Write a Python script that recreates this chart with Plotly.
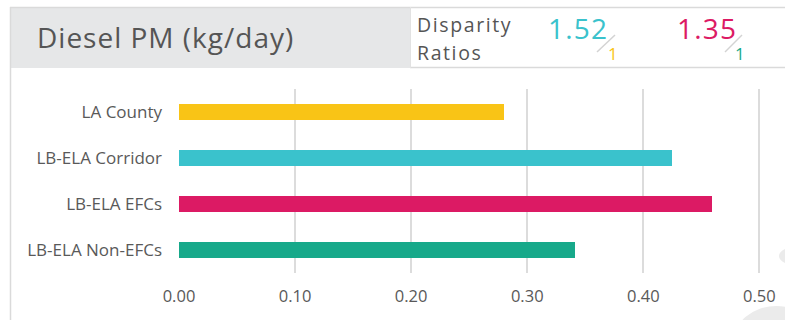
import plotly.graph_objects as go

# Diesel PM emissions by area (kg/day)
categories = ["LA County", "LB-ELA Corridor", "LB-ELA EFCs", "LB-ELA Non-EFCs"]
values = [0.280, 0.425, 0.459, 0.341]
bar_colors = ["#F9C416", "#3AC2CC", "#DC1A64", "#17A98A"]
tick_vals = [0.0, 0.1, 0.2, 0.3, 0.4, 0.5]
tick_text = ["0.00", "0.10", "0.20", "0.30", "0.40", "0.50"]

# Disparity ratios shown in the header
ratio_corridor = "1.52"
ratio_efc = "1.35"

W, H = 785, 320
ML, MR, MT, MB = 179, 14, 89, 47
PW, PH = W - ML - MR, H - MT - MB
XMAX = 0.51
HEAD_FONT = "Open Sans"


def px(x):
    return (x - ML) / PW


def py(y):
    return (H - MB - y) / PH


def spaced(text, spacing):
    return f'<span style="letter-spacing:{spacing}px">{text}</span>'


fig = go.Figure()
fig.add_trace(go.Bar(
    y=categories,
    x=values,
    orientation="h",
    marker=dict(color=bar_colors, line=dict(width=0)),
    width=0.35,
    hoverinfo="x+y",
))

GRAY_TXT = "#595959"
shapes = [
    # header grey title box
    dict(type="rect", xref="paper", yref="paper", x0=px(10), x1=px(410), y0=py(68), y1=py(7),
         fillcolor="#E6E7E8", line=dict(width=0), layer="below"),
    # top header rule
    dict(type="line", xref="paper", yref="paper", x0=px(10), x1=px(785), y0=py(7.5), y1=py(7.5),
         line=dict(color="#DADADA", width=1.5)),
    # ratio box bottom rule
    dict(type="line", xref="paper", yref="paper", x0=px(410), x1=px(785), y0=py(67.5), y1=py(67.5),
         line=dict(color="#DADADA", width=1.5)),
    # ratio box left rule
    dict(type="line", xref="paper", yref="paper", x0=px(410.5), x1=px(410.5), y0=py(7), y1=py(68),
         line=dict(color="#E2E2E2", width=1)),
    # left panel rule
    dict(type="line", xref="paper", yref="paper", x0=px(10.5), x1=px(10.5), y0=py(7), y1=py(320),
         line=dict(color="#DADADA", width=1.5)),
    # ratio slashes
    dict(type="line", xref="paper", yref="paper", x0=px(597), x1=px(615), y0=py(52), y1=py(35),
         line=dict(color="#D3D3D3", width=1.5)),
    dict(type="line", xref="paper", yref="paper", x0=px(725), x1=px(742), y0=py(52), y1=py(35),
         line=dict(color="#D3D3D3", width=1.5)),
    # decorative grey blobs in the corner
    dict(type="circle", xref="paper", yref="paper", x0=px(733), x1=px(820), y0=py(380), y1=py(306),
         fillcolor="#EBEBEB", line=dict(width=0), layer="below"),
    dict(type="circle", xref="paper", yref="paper", x0=px(779), x1=px(820), y0=py(266), y1=py(246),
         fillcolor="#EBEBEB", line=dict(width=0), layer="below"),
]

annotations = [
    dict(text=spaced("Diesel PM (kg/day)", 1), xref="paper", yref="paper", x=px(35), y=py(37),
         xanchor="left", yanchor="middle", showarrow=False,
         font=dict(family=HEAD_FONT, size=28, color="#555555")),
    dict(text=spaced("Disparity", 1.6), xref="paper", yref="paper", x=px(415), y=py(24),
         xanchor="left", yanchor="middle", showarrow=False,
         font=dict(family=HEAD_FONT, size=19.5, color="#555555")),
    dict(text=spaced("Ratios", 1.6), xref="paper", yref="paper", x=px(415), y=py(52),
         xanchor="left", yanchor="middle", showarrow=False,
         font=dict(family=HEAD_FONT, size=19.5, color="#555555")),
    dict(text=spaced(ratio_corridor, 1.2), xref="paper", yref="paper", x=px(546), y=py(28),
         xanchor="left", yanchor="middle", showarrow=False,
         font=dict(family=HEAD_FONT, size=28, color=bar_colors[1])),
    dict(text="1", xref="paper", yref="paper", x=px(606), y=py(54),
         xanchor="left", yanchor="middle", showarrow=False,
         font=dict(family=HEAD_FONT, size=17, color=bar_colors[0])),
    dict(text=spaced(ratio_efc, 1.2), xref="paper", yref="paper", x=px(675), y=py(28),
         xanchor="left", yanchor="middle", showarrow=False,
         font=dict(family=HEAD_FONT, size=28, color=bar_colors[2])),
    dict(text="1", xref="paper", yref="paper", x=px(733), y=py(54),
         xanchor="left", yanchor="middle", showarrow=False,
         font=dict(family=HEAD_FONT, size=17, color=bar_colors[3])),
]

fig.update_layout(
    width=W, height=H,
    margin=dict(l=ML, r=MR, t=MT, b=MB, pad=0, autoexpand=False),
    paper_bgcolor="white", plot_bgcolor="white",
    showlegend=False,
    bargap=0,
    shapes=shapes,
    annotations=annotations,
    font=dict(family="Open Sans", color=GRAY_TXT),
)
fig.update_xaxes(
    range=[0, XMAX], tickvals=tick_vals, ticktext=tick_text,
    showgrid=True, gridcolor="#DCDCDC", gridwidth=1.5,
    zeroline=False, showline=False, ticks="", automargin=False,
    tickfont=dict(family="Open Sans", size=16.5, color=GRAY_TXT),
    ticklabelstandoff=11, fixedrange=True,
)
fig.update_yaxes(
    categoryorder="array", categoryarray=categories, autorange="reversed",
    showgrid=False, zeroline=False, showline=False, ticks="", automargin=False,
    tickfont=dict(family="Open Sans", size=17, color=GRAY_TXT),
    ticklabelstandoff=16, fixedrange=True,
)

fig.write_html("out.html", config={"displayModeBar": False})
